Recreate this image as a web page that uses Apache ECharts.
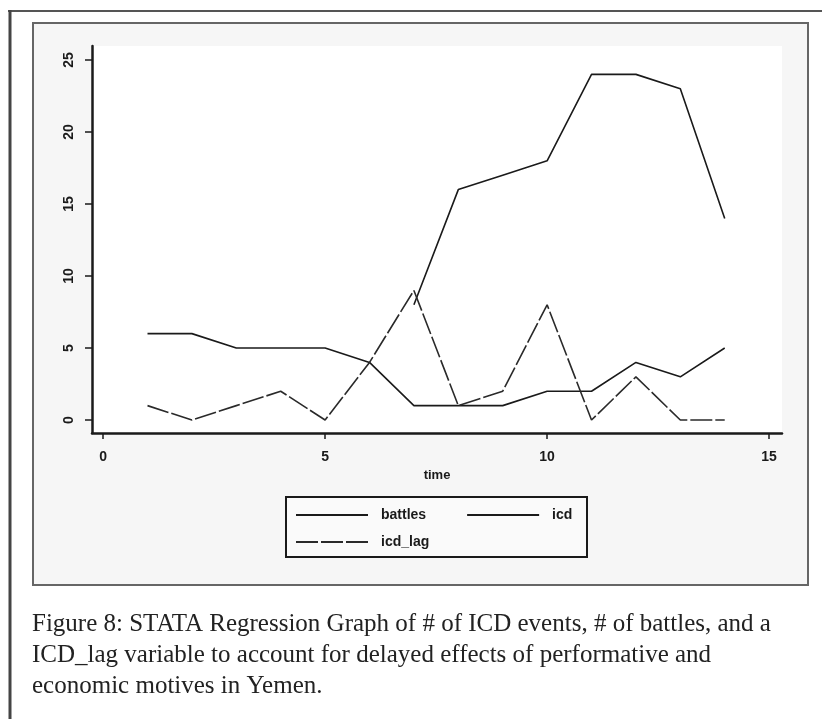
<!DOCTYPE html>
<html>
<head>
<meta charset="utf-8">
<script src="https://cdn.jsdelivr.net/npm/echarts@6/dist/echarts.min.js"></script>
<style>
  html, body { margin: 0; padding: 0; background: #fff; }
  #chart-container { width: 822px; height: 719px; }
</style>
</head>
<body>
<div id="chart-container"></div>
<script>
// values
var time = [1, 2, 3, 4, 5, 6, 7, 8, 9, 10, 11, 12, 13, 14];
var battles = [null, null, null, null, null, null, 8, 16, 17, 18, 24, 24, 23, 14];
var icd = [6, 6, 5, 5, 5, 4, 1, 1, 1, 2, 2, 4, 3, 5];
var icdLag = [1, 0, 1, 2, 0, 4, 9, 1, 2, 8, 0, 3, 0, 0];
var xTicks = [0, 5, 10, 15];
var yTicks = [0, 5, 10, 15, 20, 25];
var caption = [
  "Figure 8: STATA Regression Graph of # of ICD events, # of battles, and a",
  "ICD_lag variable to account for delayed effects of performative and",
  "economic motives in Yemen."
];

function pairs(ys) {
  return time.map(function (t, i) { return [t, ys[i]]; });
}

var dom = document.getElementById("chart-container");
var myChart = echarts.init(dom, null, { renderer: "canvas" });

var ink = "#1a1a1a";
var sans = "'Liberation Sans', Arial, sans-serif";
var legendText = { fontFamily: sans, fontSize: 14, fontWeight: "bold", color: ink, padding: [0, 0, 0, 8] };

var option = {
  animation: false,
  backgroundColor: "#fff",
  title: {
    text: caption.join("\n"),
    left: 32,
    top: 609,
    padding: 0,
    textStyle: {
      fontFamily: "'Liberation Serif', 'Times New Roman', serif",
      fontSize: 25,
      fontWeight: "normal",
      color: "#222",
      lineHeight: 31
    }
  },
  graphic: [
    // outer page lines
    { type: "line", shape: { x1: 8, y1: 11, x2: 822, y2: 11 }, style: { stroke: "#555", lineWidth: 2 }, z: -10 },
    { type: "line", shape: { x1: 10, y1: 10, x2: 10, y2: 719 }, style: { stroke: "#444", lineWidth: 3 }, z: -10 },
    // graph region
    { type: "rect", shape: { x: 33, y: 23, width: 775, height: 562 }, style: { fill: "#f6f6f6", stroke: "#666", lineWidth: 2 }, z: -10 },
    // legend box
    { type: "rect", shape: { x: 286, y: 497, width: 301, height: 60 }, style: { fill: "#fafafa", stroke: ink, lineWidth: 2 }, z: -5 }
  ],
  grid: {
    left: 92,
    top: 46,
    width: 690,
    height: 387,
    show: true,
    backgroundColor: "#fff",
    borderWidth: 0
  },
  legend: [
    {
      data: ["battles", "icd"],
      left: 295,
      top: 508,
      padding: 0,
      itemWidth: 72,
      itemHeight: 14,
      itemGap: 40,
      itemStyle: { opacity: 0 },
      textStyle: legendText
    },
    {
      data: ["icd_lag"],
      left: 295,
      top: 535,
      padding: 0,
      itemWidth: 72,
      itemHeight: 14,
      itemStyle: { opacity: 0 },
      textStyle: legendText
    }
  ],
  xAxis: {
    type: "value",
    min: -0.25,
    max: 15.29,
    name: "time",
    nameLocation: "middle",
    nameGap: 34,
    nameTextStyle: { fontFamily: sans, fontSize: 13, fontWeight: "bold", color: ink },
    splitLine: { show: false },
    axisLine: { show: true, onZero: false, lineStyle: { color: ink, width: 2.5 } },
    axisTick: { show: true, customValues: xTicks, length: 6, lineStyle: { color: ink, width: 1.5 } },
    axisLabel: {
      customValues: xTicks,
      margin: 17,
      fontFamily: sans,
      fontSize: 14,
      fontWeight: "bold",
      color: ink
    }
  },
  yAxis: {
    type: "value",
    min: -0.9,
    max: 25.97,
    splitLine: { show: false },
    axisLine: { show: true, onZero: false, lineStyle: { color: ink, width: 2.5 } },
    axisTick: { show: true, customValues: yTicks, length: 7, lineStyle: { color: ink, width: 1.5 } },
    axisLabel: {
      customValues: yTicks,
      rotate: 90,
      margin: 16,
      fontFamily: sans,
      fontSize: 14,
      fontWeight: "bold",
      color: ink
    }
  },
  series: [
    {
      name: "battles",
      type: "line",
      data: pairs(battles),
      symbol: "none",
      connectNulls: false,
      lineStyle: { color: ink, width: 1.6 },
      itemStyle: { color: ink }
    },
    {
      name: "icd",
      type: "line",
      data: pairs(icd),
      symbol: "none",
      lineStyle: { color: ink, width: 1.6 },
      itemStyle: { color: ink }
    },
    {
      name: "icd_lag",
      type: "line",
      data: pairs(icdLag),
      symbol: "none",
      lineStyle: { color: "#2a2a2a", width: 1.6, type: [22, 3] },
      itemStyle: { color: "#2a2a2a" }
    }
  ]
};

myChart.setOption(option);
window.addEventListener("resize", myChart.resize);
</script>
</body>
</html>
